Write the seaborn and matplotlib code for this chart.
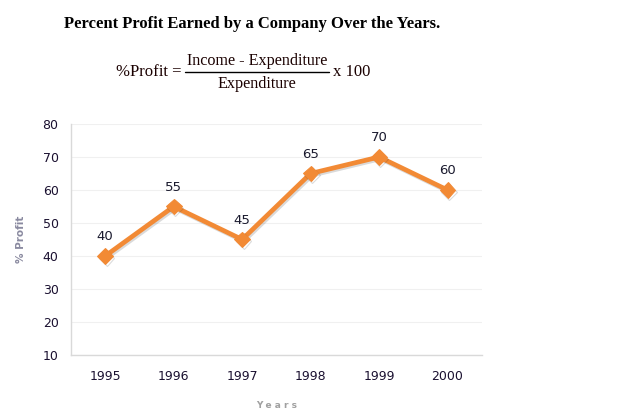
import pandas as pd
import seaborn as sns
import matplotlib.pyplot as plt
import matplotlib.patheffects as pe
from matplotlib.lines import Line2D

years = [1995, 1996, 1997, 1998, 1999, 2000]
profit = [40, 55, 45, 65, 70, 60]
y_ticks = [10, 20, 30, 40, 50, 60, 70, 80]

df = pd.DataFrame({'year': years, 'profit': profit})

sns.set_style('white')
plt.rcParams['font.family'] = ['DejaVu Sans']

fig = plt.figure(figsize=(6.3, 4.15), dpi=100)
ax = fig.add_axes([0.1127, 0.1446, 0.652, 0.5566])

orange = '#f28a35'
sns.lineplot(data=df, x='year', y='profit', ax=ax, color=orange, linewidth=3.4,
             marker='D', markersize=8, markeredgecolor=orange,
             path_effects=[pe.SimpleLineShadow(offset=(1, -1.2), alpha=0.18, shadow_color='#333333'),
                           pe.Normal()])

# data labels
for x, y in zip(years, profit):
    ax.annotate(str(y), (x, y), xytext=(0, 14), textcoords='offset points',
                ha='center', va='center', fontsize=9.5, color='#1a1a2e')

ax.set_xlim(1994.5, 2000.5)
ax.set_ylim(10, 80)
ax.set_xticks(years)
ax.set_yticks(y_ticks)
ax.tick_params(axis='both', labelsize=9, colors='#d4d4d4', length=3, width=1)
ax.tick_params(axis='x', pad=8)
ax.tick_params(axis='y', pad=6)
for t in ax.get_xticklabels() + ax.get_yticklabels():
    t.set_color('#1a1030')

ax.grid(axis='y', color='#f0f0f0', linewidth=0.8)
ax.set_axisbelow(True)
for side in ['top', 'right']:
    ax.spines[side].set_visible(False)
for side in ['left', 'bottom']:
    ax.spines[side].set_color('#d9d9d9')
    ax.spines[side].set_linewidth(1)

ax.set_xlabel('Y e a r s', fontsize=6.5, color='#a0a0a0', fontweight='bold', labelpad=13)
ax.set_ylabel('% Profit', fontsize=7.5, color='#8a8aa0', fontweight='bold', labelpad=12)

# title and formula
serif = ['Liberation Serif', 'DejaVu Serif']
ink = '#1a0000'
fig.text(64 / 630, 1 - 24 / 415, 'Percent Profit Earned by a Company Over the Years.',
         fontsize=12, fontweight='bold', family=serif, va='center', ha='left', color='black')
fig.text(181 / 630, 1 - 72 / 415, '%Profit =', fontsize=12, family=serif,
         va='center', ha='right', color=ink)
fig.text(257 / 630, 1 - 61 / 415, 'Income - Expenditure', fontsize=11.6, family=serif,
         va='center', ha='center', color=ink)
fig.text(257 / 630, 1 - 84 / 415, 'Expenditure', fontsize=11.6, family=serif,
         va='center', ha='center', color=ink)
fig.add_artist(Line2D([185 / 630, 329 / 630], [1 - 72 / 415, 1 - 72 / 415],
                      color='black', linewidth=1, transform=fig.transFigure))
fig.text(333 / 630, 1 - 72 / 415, 'x 100', fontsize=12, family=serif,
         va='center', ha='left', color=ink)

fig.savefig('out.png', dpi=100)
